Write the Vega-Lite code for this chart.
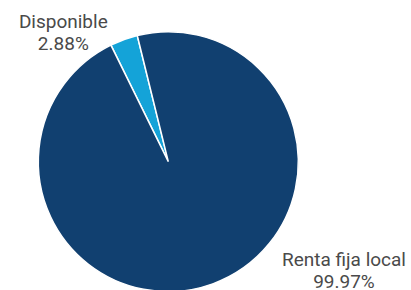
{
  "$schema": "https://vega.github.io/schema/vega-lite/v6.json",
  "width": 336.6,
  "height": 323.4,
  "autosize": {"type": "none"},
  "padding": {"left": 0, "top": 0, "right": 75, "bottom": 0},
  "background": "white",
  "config": {"view": {"stroke": null}},
  "data": {
    "values": [
      {"category": "Disponible", "value": 3.44, "label": "Disponible\n2.88%"},
      {"category": "Renta fija local", "value": 96.56, "label": "Renta fija local\n99.97%"}
    ]
  },
  "encoding": {
    "theta": {"field": "value", "type": "quantitative", "stack": true, "scale": {"range": [5.826, 12.109]}},
    "order": {"field": "category", "sort": "ascending"}
  },
  "layer": [
    {
      "mark": {"type": "arc", "radius": 130, "stroke": "white", "strokeWidth": 1.5},
      "encoding": {
        "color": {"field": "category", "type": "nominal", "legend": null,
          "scale": {"domain": ["Disponible", "Renta fija local"], "range": ["#14a3d8", "#114070"]}}
      }
    },
    {
      "mark": {"type": "text", "radius": 170.2, "thetaOffset": -0.3156, "lineBreak": "\n", "font": "Roboto", "fontSize": 19, "fontWeight": 400, "lineHeight": 22.3, "color": "#4a4a4a", "align": "center", "baseline": "alphabetic"},
      "encoding": {
        "detail": {"field": "category", "type": "nominal"},
        "text": {"condition": {"test": "datum.category === 'Disponible'", "field": "label"}, "value": ""}
      }
    },
    {
      "mark": {"type": "text", "radius": 204.3, "thetaOffset": -0.686, "lineBreak": "\n", "font": "Roboto", "fontSize": 19, "fontWeight": 400, "lineHeight": 22.3, "color": "#4a4a4a", "align": "center", "baseline": "alphabetic"},
      "encoding": {
        "detail": {"field": "category", "type": "nominal"},
        "text": {"condition": {"test": "datum.category === 'Renta fija local'", "field": "label"}, "value": ""}
      }
    }
  ]
}
